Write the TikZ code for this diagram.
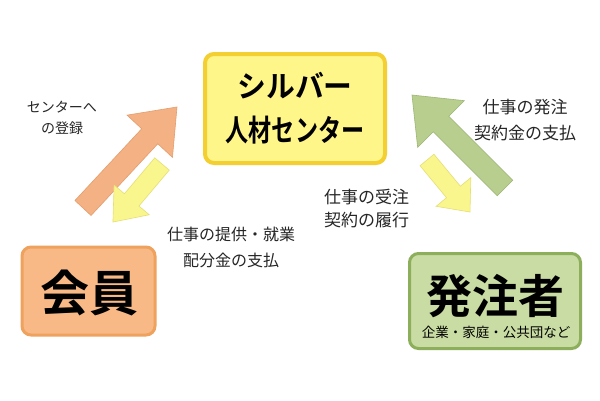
\documentclass[tikz,border=0pt]{standalone}
\usepackage{fontspec}
\usepackage{graphicx}
\setmainfont{Noto Sans CJK JP}[BoldFont={Noto Sans CJK JP Bold}]
\definecolor{cbFill}{HTML}{FFF68A}
\definecolor{cbLine}{HTML}{F3CF32}
\definecolor{mbFill}{HTML}{F8B987}
\definecolor{mbLine}{HTML}{EFA25E}
\definecolor{hbFill}{HTML}{C9DCA3}
\definecolor{hbLine}{HTML}{8DAF5C}
\definecolor{arOrange}{HTML}{F4B183}
\definecolor{arOrangeL}{HTML}{E49D6C}
\definecolor{arYellow}{HTML}{F9F68E}
\definecolor{arYellowL}{HTML}{E6DF72}
\definecolor{arGreen}{HTML}{B8CE8E}
\definecolor{arGreenL}{HTML}{9DB674}
% #1 tail coordinate, #2 angle, #3 length, #4 shaft width, #5 head width, #6 head length, #7 style
\newcommand\fatarrow[7]{%
  \path[#7, shift={(#1)}, rotate=#2]
    (0,#4/2) -- (#3-#6,#4/2) -- (#3-#6,#5/2) -- (#3,0) -- (#3-#6,-#5/2)
    -- (#3-#6,-#4/2) -- (0,-#4/2) -- cycle;}
\tikzset{
  box/.style={rounded corners=9pt, inner sep=0pt},
  centerbox/.style={box, draw=cbLine, fill=cbFill, line width=4pt,
    minimum width=180pt, minimum height=109pt},
  memberbox/.style={box, draw=mbLine, fill=mbFill, line width=3pt,
    minimum width=133pt, minimum height=88pt},
  clientbox/.style={box, draw=hbLine, fill=hbFill, line width=3pt,
    minimum width=171pt, minimum height=95pt},
  label/.style={inner sep=0pt, text=black!85},
  orangearrow/.style={fill=arOrange, draw=arOrangeL, line width=0.6pt},
  yellowarrow/.style={fill=arYellow, draw=arYellowL, line width=0.6pt},
  greenarrow/.style={fill=arGreen, draw=arGreenL, line width=0.6pt},
}
\begin{document}
\begin{tikzpicture}[x=1pt, y=-1pt]
\useasboundingbox[fill=white] (0,0) rectangle (600,400);

% boxes
\node[centerbox, align=center, font=\bfseries\fontsize{30}{44}\selectfont]
  (center) at (295,108.5)
  {\scalebox{0.96}[1]{シルバー}\\\scalebox{0.77}[1]{人材センター}};
\node[memberbox] (member) at (88.5,291) {};
\node[inner sep=0pt, font=\bfseries\fontsize{49}{49}\selectfont] (membertext) at (89,293) {会員};
\node[clientbox] (client) at (495,301) {};
\node[inner sep=0pt, font=\bfseries\fontsize{46}{46}\selectfont] (clienttext) at (495.5,296) {発注者};
\node[inner sep=0pt, font=\fontsize{13.5}{13.5}\selectfont] (clientsub) at (496,332) {企業・家庭・公共団など};

% arrow anchor coordinates
\coordinate (oTail) at (83,208);
\coordinate (yLTail) at (162,164);
\coordinate (gTail) at (505,188);
\coordinate (yRTail) at (427,160);

\fatarrow{oTail}{47.06}{138}{22}{62}{40}{orangearrow}
\fatarrow{yLTail}{229.8}{76}{19}{46}{29}{yellowarrow}
\fatarrow{gTail}{135}{131.5}{22}{66}{41}{greenarrow}
\fatarrow{yRTail}{-50.4}{67.5}{18}{45}{26}{yellowarrow}

% labels
\node[label, align=center, font=\fontsize{14}{21}\selectfont] (lblReg) at (62,118)
  {センターへ\\の登録};
\node[label, align=center, font=\fontsize{16}{26}\selectfont] (lblProv) at (231,247)
  {仕事の提供・就業\\配分金の支払};
\node[label, align=left, anchor=west, font=\fontsize{17}{23}\selectfont] (lblRecv) at (324,209)
  {仕事の受注\\契約の履行};
\node[label, align=center, font=\fontsize{17}{26}\selectfont] (lblOrder) at (525,120)
  {仕事の発注\\契約金の支払};
\end{tikzpicture}
\end{document}
